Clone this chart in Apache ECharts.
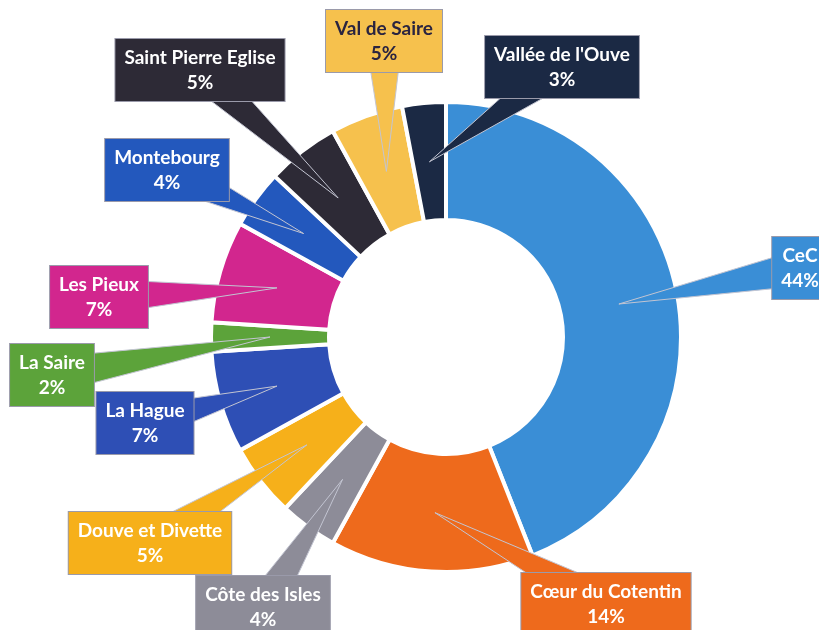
<!DOCTYPE html>
<html>
<head>
<meta charset="utf-8">
<title>Répartition</title>
<script src="https://cdn.jsdelivr.net/npm/echarts@6/dist/echarts.min.js"></script>
<style>
  html, body { margin: 0; padding: 0; background: #fff; }
  #my { width: 819px; height: 630px; }
</style>
</head>
<body>
<div id="my"></div>
<script>
// données
var names = ['CeC', 'Cœur du Cotentin', 'Côte des Isles', 'Douve et Divette', 'La Hague',
  'La Saire', 'Les Pieux', 'Montebourg', 'Saint Pierre Eglise', 'Val de Saire', "Vallée de l'Ouve"];
var values = [44, 14, 4, 5, 7, 2, 7, 4, 5, 5, 3];

// couleurs des parts et du texte des étiquettes
var colors = ['#3a8ed6', '#ee6a1c', '#8d8c98', '#f6b01a', '#2e4fb5',
  '#5ca33a', '#d2268e', '#2358bd', '#2d2a36', '#f6c14d', '#1b2944'];
var textColors = ['#fff', '#fff', '#fff', '#fff', '#fff',
  '#fff', '#fff', '#fff', '#fff', '#2a2440', '#fff'];

// position (centre) des étiquettes
var labelPos = [[800, 268], [606, 604], [263, 607], [150, 543], [145, 423],
  [52, 375], [99, 297], [167, 170], [200, 70], [384, 41], [562, 67]];
var wedgeHalf = 18;

var myChart = echarts.init(document.getElementById('my'));

var sectors = [], labels = [];
for (var i = 0; i < names.length; i++) {
  sectors.push({ name: names[i], value: values[i], itemStyle: { color: colors[i] } });
  labels.push({
    name: names[i], value: values[i],
    label: { backgroundColor: colors[i], color: textColors[i] }
  });
}

var option = {
  backgroundColor: '#fff',
  animation: false,
  series: [{
    type: 'pie',
    z: 1,
    silent: true,
    center: [446, 337],
    radius: [117, 235],
    startAngle: 90,
    clockwise: true,
    avoidLabelOverlap: false,
    itemStyle: { borderColor: '#fff', borderWidth: 4 },
    label: { show: false },
    labelLine: { show: false },
    data: sectors
  }, {
    type: 'pie',
    z: 10,
    silent: true,
    center: [446, 337],
    radius: [117, 235],
    startAngle: 90,
    clockwise: true,
    avoidLabelOverlap: false,
    itemStyle: { color: 'rgba(0,0,0,0)' },
    label: {
      show: true,
      position: 'outside',
      formatter: '{b}\n{c}%',
      fontFamily: 'Lato',
      fontWeight: 'bold',
      fontSize: 19,
      lineHeight: 25,
      align: 'center',
      padding: [7, 9, 5, 9],
      borderColor: '#9a9aaa',
      borderWidth: 1
    },
    labelLine: { show: false },
    labelLayout: function(params) {
      var p = labelPos[params.dataIndex];
      return { x: p[0], y: p[1], align: 'center', verticalAlign: 'middle' };
    },
    data: labels
  }]
};

myChart.setOption(option);

// pointes des bulles, à partir de la géométrie des parts
var layoutData = myChart.getModel().getSeriesByIndex(0).getData();
var wedges = [];
for (var k = 0; k < names.length; k++) {
  var L = layoutData.getItemLayout(k);
  var mid = (L.startAngle + L.endAngle) / 2;
  var rr = (L.r + L.r0) / 2;
  var tx = L.cx + rr * Math.cos(mid), ty = L.cy + rr * Math.sin(mid);
  var bx = labelPos[k][0], by = labelPos[k][1];
  var dx = bx - tx, dy = by - ty, len = Math.sqrt(dx * dx + dy * dy);
  var nx = -dy / len * wedgeHalf, ny = dx / len * wedgeHalf;
  wedges.push({
    type: 'polygon',
    z: 5,
    silent: true,
    shape: { points: [[tx, ty], [bx + nx, by + ny], [bx - nx, by - ny]] },
    style: { fill: colors[k], stroke: '#c3c5d2', lineWidth: 1 }
  });
}
myChart.setOption({ graphic: wedges });
</script>
</body>
</html>
